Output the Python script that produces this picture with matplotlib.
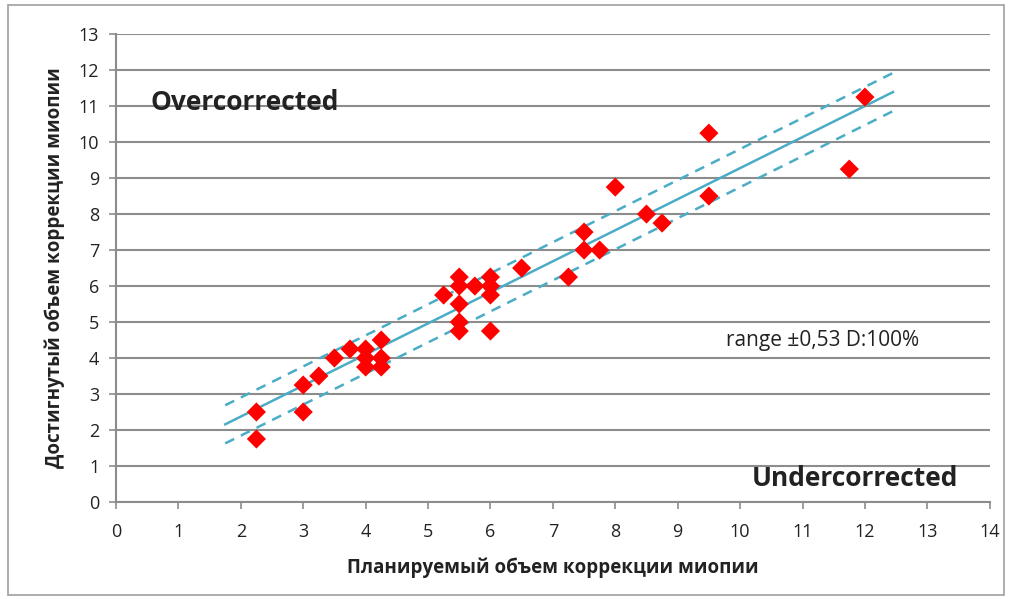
import matplotlib.pyplot as plt
import numpy as np
from matplotlib.patches import Rectangle

plt.rcParams['font.family'] = ['Open Sans', 'DejaVu Sans']

# planned vs achieved correction
planned = [2.25, 2.25, 3, 3, 3.25, 3.5, 3.75, 4, 4, 4, 4.25, 4.25, 4.25,
           5.25, 5.5, 5.5, 5.5, 5.5, 5.5, 5.75, 6, 6, 6, 6, 6.5, 7.25,
           7.5, 7.5, 7.75, 8, 8.5, 8.75, 9.5, 9.5, 11.75, 12]
achieved = [2.5, 1.75, 3.25, 2.5, 3.5, 4.0, 4.25, 4.25, 4.0, 3.75, 4.5, 4.0, 3.75,
            5.75, 6.25, 6.0, 5.5, 5.0, 4.75, 6.0, 6.25, 6.0, 5.75, 4.75, 6.5, 6.25,
            7.5, 7.0, 7.0, 8.75, 8.0, 7.75, 10.25, 8.5, 9.25, 11.25]

# trend line
line_x = [1.75, 12.45]
slope = 0.863
intercept = 0.647
band = 0.53

x_ticks = np.arange(0, 15, 1)
y_ticks = np.arange(0, 14, 1)

line_color = '#4bacc6'
grid_color = '#8c8c8c'
text_color = '#222222'

fig = plt.figure(figsize=(10.12, 5.99), dpi=100)
ax = fig.add_axes([0.1146, 0.162, 0.8634, 0.781])

fig.patches.append(Rectangle((0.008, 0.007), 0.984, 0.985, transform=fig.transFigure,
                             fill=False, edgecolor='#a0a0a0', linewidth=1.2))

lx = np.array(line_x)
ly = slope * lx + intercept
ax.plot(lx, ly, color=line_color, linewidth=1.8, zorder=3)
ax.plot(lx, ly + band, color=line_color, linewidth=1.8, linestyle=(0, (4, 3)), zorder=3)
ax.plot(lx, ly - band, color=line_color, linewidth=1.8, linestyle=(0, (4, 3)), zorder=3)

ax.scatter(planned, achieved, marker='D', s=95, color='#ff0000', edgecolors='none', zorder=4)

ax.set_xlim(0, 14)
ax.set_ylim(0, 13)
ax.set_xticks(x_ticks)
ax.set_yticks(y_ticks)
ax.yaxis.grid(True, color=grid_color, linewidth=1.5)
ax.set_axisbelow(True)

for side in ['top', 'right']:
    ax.spines[side].set_visible(False)
for side in ['left', 'bottom']:
    ax.spines[side].set_color(grid_color)
    ax.spines[side].set_linewidth(1.5)

ax.tick_params(axis='both', colors=grid_color, labelcolor=text_color, labelsize=13,
               width=1.2, length=5)
ax.tick_params(axis='y', direction='out', pad=7)
ax.tick_params(axis='x', direction='out', pad=10)

ax.set_xlabel('Планируемый объем коррекции миопии', fontsize=13.5, fontweight='bold',
              color=text_color, labelpad=12)
ax.set_ylabel('Достигнутый объем коррекции миопии', fontsize=13.5, fontweight='bold',
              color=text_color, labelpad=10)

ax.text(0.55, 11.1, 'Overcorrected', fontsize=19, fontweight='bold', color=text_color,
        va='center', ha='left')
ax.text(13.5, 0.65, 'Undercorrected', fontsize=19, fontweight='bold', color=text_color,
        va='center', ha='right')
ax.text(9.78, 4.5, 'range ±0,53 D:100%', fontsize=15, color=text_color,
        va='center', ha='left')

fig.savefig('out.png', dpi=100)
